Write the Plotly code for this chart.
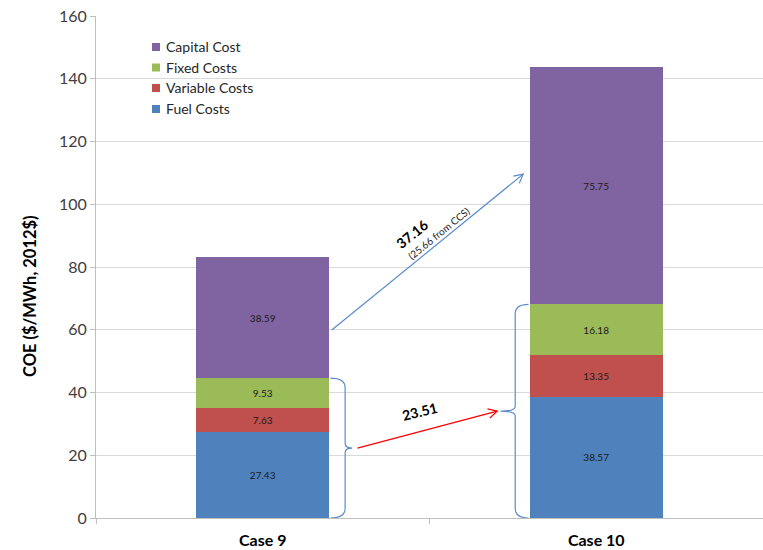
import math
import plotly.graph_objects as go

cases = ["Case 9", "Case 10"]
fuel = [27.43, 38.57]
variable = [7.63, 13.35]
fixed = [9.53, 16.18]
capital = [38.59, 75.75]
series_names = ["Fuel Costs", "Variable Costs", "Fixed Costs", "Capital Cost"]
series_colors = ["#4F81BD", "#C0504D", "#9BBB59", "#8064A2"]
y_ticks = [0, 20, 40, 60, 80, 100, 120, 140, 160]

W, H = 763, 550
ML, MR, MT, MB = 96, 0, 16, 32
PW, PH = W - ML - MR, H - MT - MB
SX = PW / 2.0      # px per category unit
SY = PH / 160.0    # px per y unit
FONT = "Lato"

fig = go.Figure()
for name, vals, col in zip(series_names, [fuel, variable, fixed, capital], series_colors):
    fig.add_trace(go.Bar(
        x=cases, y=vals, name=name, marker_color=col,
        marker_line_width=0, width=0.4,
        text=[f"{v:.2f}" for v in vals], textposition="inside",
        insidetextanchor="middle", textangle=0,
        textfont=dict(size=10, color="#1a1a1a", family=FONT),
        hoverinfo="skip", showlegend=False,
    ))

sub9 = fuel[0] + variable[0] + fixed[0]
sub10 = fuel[1] + variable[1] + fixed[1]
brace_col = "#5B8BC9"


def brace(xe, xv, xt, top):
    mid = top / 2
    r = 3.0
    return (f"M {xe},{top} Q {xv},{top} {xv},{top - r} L {xv},{mid + 1.5} "
            f"Q {xv},{mid} {xt},{mid} Q {xv},{mid} {xv},{mid - 1.5} "
            f"L {xv},{r} Q {xv},0 {xe},0")


shapes = [
    dict(type="path", path=brace(0.203, 0.247, 0.268, sub9), xref="x", yref="y",
         line=dict(color=brace_col, width=1.2)),
    dict(type="path", path=brace(0.797, 0.757, 0.713, sub10), xref="x", yref="y",
         line=dict(color=brace_col, width=1.2)),
]


def arrow(x0, y0, x1, y1, col, width=1.2, head=10, ang=28):
    dxp = (x1 - x0) * SX
    dyp = (y1 - y0) * SY
    L = math.hypot(dxp, dyp)
    ux, uy = dxp / L, dyp / L
    pts = []
    for s in (1, -1):
        a = math.radians(ang) * s
        rx = -(ux * math.cos(a) - uy * math.sin(a)) * head
        ry = -(ux * math.sin(a) + uy * math.cos(a)) * head
        pts.append((x1 + rx / SX, y1 + ry / SY))
    return [
        dict(type="line", x0=x0, y0=y0, x1=x1, y1=y1, xref="x", yref="y",
             line=dict(color=col, width=width)),
        dict(type="path", xref="x", yref="y",
             path=f"M {pts[0][0]},{pts[0][1]} L {x1},{y1} L {pts[1][0]},{pts[1][1]}",
             line=dict(color=col, width=width)),
    ]


shapes += arrow(0.207, 59.9, 0.781, 109.6, "#5B8BC9")
shapes += arrow(0.284, sub9 / 2, 0.703, sub10 / 2, "#FF0000")

annotations = [
    dict(x=0.449, y=90.6, xref="x", yref="y", text="<b>37.16</b>", showarrow=False,
         textangle=-39, font=dict(size=14, color="#000000", family=FONT)),
    dict(x=0.529, y=90.8, xref="x", yref="y", text="(25.66 from CCS)", showarrow=False,
         textangle=-39, font=dict(size=10, color="#222222", family=FONT)),
    dict(x=0.470, y=33.8, xref="x", yref="y", text="<b>23.51</b>", showarrow=False,
         textangle=-14, font=dict(size=14, color="#000000", family=FONT)),
    # y-axis title
    dict(x=(30 - ML) / PW, y=(518 - 296) / PH, xref="paper", yref="paper",
         xanchor="center", yanchor="middle",
         text="<b>COE ($/MWh, 2012$)</b>", showarrow=False, textangle=-90,
         font=dict(size=16.5, color="#000000", family=FONT)),
]

# custom legend (top to bottom: reversed stack order)
leg_centers = [47, 67.5, 88, 109]
for i, (name, col) in enumerate(zip(series_names[::-1], series_colors[::-1])):
    cy = leg_centers[i]
    shapes.append(dict(type="rect", xref="paper", yref="paper",
                       x0=(152 - ML) / PW, x1=(160 - ML) / PW,
                       y0=(518 - cy - 4) / PH, y1=(518 - cy + 4) / PH,
                       fillcolor=col, line=dict(width=0)))
    annotations.append(dict(x=(164 - ML) / PW, y=(518 - cy) / PH, xref="paper", yref="paper",
                            xanchor="left", yanchor="middle", text=name, showarrow=False,
                            font=dict(size=14, color="#262626", family=FONT)))

fig.update_layout(
    width=W, height=H, barmode="stack",
    margin=dict(l=ML, r=MR, t=MT, b=MB),
    paper_bgcolor="white", plot_bgcolor="white",
    font=dict(family=FONT, color="#404040"),
    shapes=shapes, annotations=annotations,
    showlegend=False,
)
fig.update_xaxes(
    type="category", range=[-0.5, 1.5], showgrid=False,
    showline=True, linecolor="#BFBFBF", linewidth=1,
    ticks="outside", tickson="boundaries", ticklen=5, tickcolor="#BFBFBF",
    tickfont=dict(size=16, color="#000000", family=FONT, weight="bold"),
    ticklabelstandoff=8,
)
fig.update_yaxes(
    range=[0, 160], tickvals=y_ticks, showgrid=True, gridcolor="#D9D9D9",
    showline=True, linecolor="#BFBFBF", linewidth=1,
    ticks="outside", ticklen=5, tickcolor="#BFBFBF",
    tickfont=dict(size=16, color="#404040", family=FONT),
    zeroline=False,
)

fig.write_html("out.html")
